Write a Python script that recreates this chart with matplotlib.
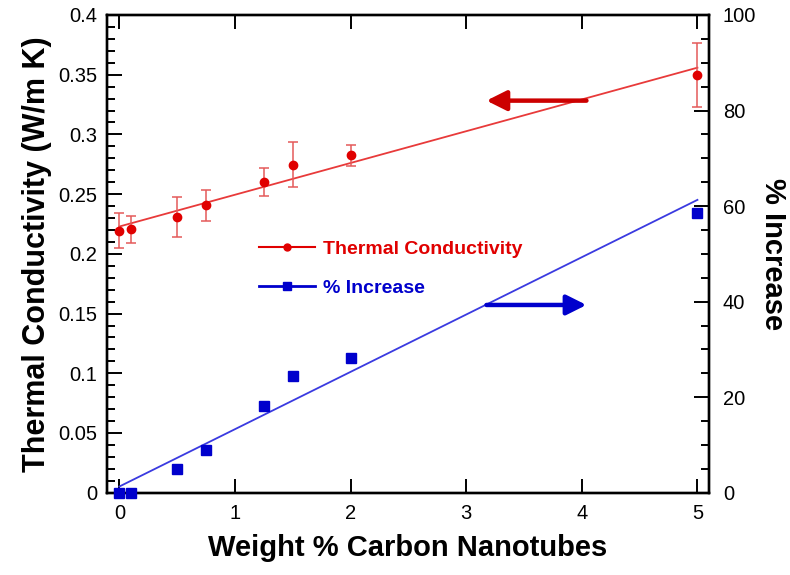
"""
Thermal conductivity and percent increase versus carbon nanotube loading,
with linear fits on a shared x axis (left: conductivity, right: % increase).
"""

import numpy as np
import matplotlib
matplotlib.use("Agg")
import matplotlib.pyplot as plt
from matplotlib.lines import Line2D
from matplotlib.ticker import MultipleLocator


plt.rcParams['font.family'] = ['Liberation Sans', 'DejaVu Sans']

# measured data
wt_pct = [0, 0.1, 0.5, 0.75, 1.25, 1.5, 2, 5]
k_vals = [0.2195, 0.2205, 0.231, 0.2405, 0.260, 0.2748, 0.2826, 0.3498]
k_err = [0.015, 0.011, 0.0165, 0.013, 0.0118, 0.019, 0.0087, 0.0265]
pct_increase = [0, 0, 5.0, 9.0, 18.1, 24.4, 28.1, 58.6]

# linear fits (intercept, slope)
k_fit = (0.2229, 0.0266)
pct_fit = (1.3, 12.0)

RED = '#e00000'
BLUE = '#0000cc'
YTICKS = [0, 0.05, 0.1, 0.15, 0.2, 0.25, 0.3, 0.35, 0.4]
YTICKLABELS = ['0', '0.05', '0.1', '0.15', '0.2', '0.25', '0.3', '0.35', '0.4']


def main():
    fig = plt.figure(figsize=(7.9, 5.75), dpi=100)
    ax = fig.add_axes([106.7 / 790, 82.3 / 575, 602.3 / 790, 477.7 / 575])
    ax2 = ax.twinx()

    xfit = np.array([0, 5])
    ax.plot(xfit, k_fit[0] + k_fit[1] * xfit, color='#e83a3a', lw=1.3, zorder=2)
    ax.errorbar(wt_pct, k_vals, yerr=k_err, fmt='o', color=RED, ms=6,
                ecolor='#e45a5a', elinewidth=1.1, capsize=3.5, capthick=1.1, zorder=3)

    ax2.plot(xfit, pct_fit[0] + pct_fit[1] * xfit, color='#3a3ae0', lw=1.3, zorder=2)
    ax2.plot(wt_pct, pct_increase, 's', color=BLUE, ms=6.5, zorder=3, clip_on=False)

    # arrows pointing at the matching axis
    arrow = dict(arrowstyle='-|>,head_width=0.6,head_length=1.2', lw=3.2,
                 shrinkA=0, shrinkB=0)
    ax.annotate('', xy=(3.175, 0.3283), xytext=(4.04, 0.3283),
                arrowprops=dict(arrow, color='#cc0000'))
    ax2.annotate('', xy=(4.04, 39.3), xytext=(3.175, 39.3),
                 arrowprops=dict(arrow, color='#0000cc'))

    ax.set_xlim(-0.11, 5.1)
    ax.set_ylim(0, 0.4)
    ax2.set_ylim(0, 100)

    ax.xaxis.set_major_locator(MultipleLocator(1))
    ax.set_yticks(YTICKS)
    ax.set_yticklabels(YTICKLABELS)
    ax.yaxis.set_minor_locator(MultipleLocator(0.01))
    ax2.yaxis.set_major_locator(MultipleLocator(20))
    ax2.yaxis.set_minor_locator(MultipleLocator(5))

    ax.tick_params(axis='x', which='major', direction='in', top=True, length=10,
                   width=1.4, labelsize=14.5, pad=8)
    ax.tick_params(axis='y', which='major', direction='in', length=11, width=1.4,
                   labelsize=14.5, pad=7)
    ax.tick_params(axis='y', which='minor', direction='in', length=6, width=1.4)
    ax2.tick_params(axis='y', which='major', direction='in', length=11, width=1.4,
                    labelsize=14.5, pad=10)
    ax2.tick_params(axis='y', which='minor', direction='in', length=6, width=1.4)

    for a in (ax, ax2):
        for sp in a.spines.values():
            sp.set_linewidth(1.7)

    ax.set_xlabel('Weight % Carbon Nanotubes', fontsize=21, fontweight='bold', labelpad=8)
    ax.set_ylabel('Thermal Conductivity (W/m K)', fontsize=22, fontweight='bold', labelpad=4)
    ax2.set_ylabel('% Increase', fontsize=21, fontweight='bold', rotation=270, labelpad=22)

    handles = [
        Line2D([], [], color=RED, marker='o', ms=5, lw=1.5),
        Line2D([], [], color=BLUE, marker='s', ms=6, lw=2),
    ]
    ax.legend(handles, ['Thermal Conductivity', '% Increase'], loc='upper left',
              bbox_to_anchor=(241 / 790, 352 / 575), bbox_transform=fig.transFigure,
              frameon=False, labelcolor='linecolor', handlelength=2.9, handletextpad=0.4,
              labelspacing=1.1, prop={'weight': 'bold', 'size': 14})

    fig.savefig('out.png', dpi=100)


if __name__ == "__main__":
    main()
